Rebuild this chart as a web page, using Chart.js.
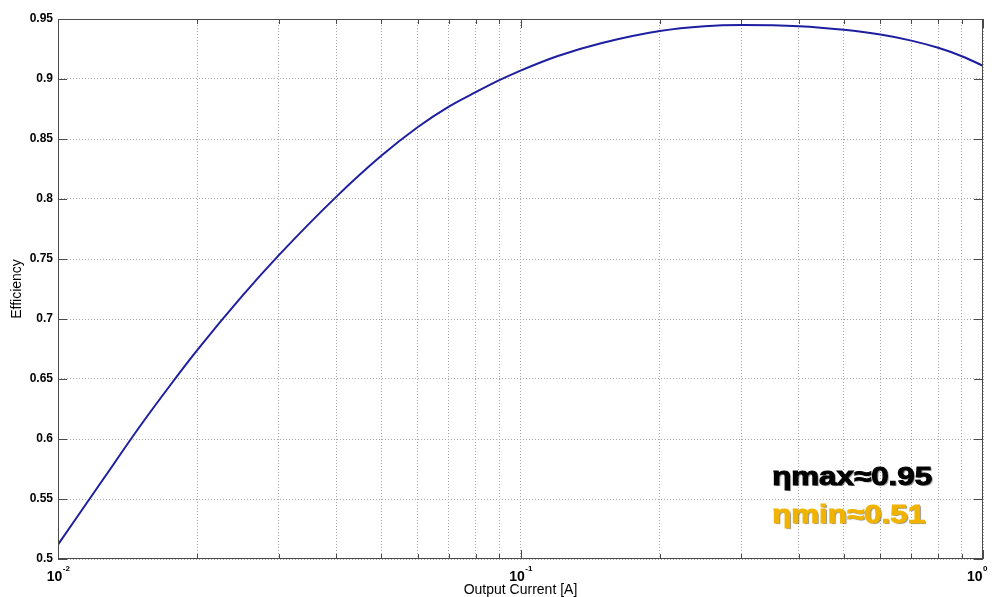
<!DOCTYPE html>
<html>
<head>
<meta charset="utf-8">
<script src="https://cdn.jsdelivr.net/npm/chart.js@4.4.1/dist/chart.umd.min.js"></script>
<style>
  html, body { margin: 0; padding: 0; background: #fff; overflow: hidden; }
  canvas { display: block; }
</style>
</head>
<body>
<canvas id="chart" width="994" height="597" style="width:994px;height:597px"></canvas>
<script>
// Efficiency curve
const currentA = [0.01, 0.0125, 0.015, 0.0175, 0.02, 0.025, 0.03, 0.04, 0.05, 0.06, 0.07, 0.08, 0.09,
                  0.1, 0.12, 0.15, 0.2, 0.25, 0.3, 0.4, 0.5, 0.6, 0.7, 0.8, 0.9, 1];
const efficiency = [0.512, 0.566, 0.610, 0.645, 0.674, 0.719, 0.753, 0.802, 0.836, 0.860, 0.877, 0.889, 0.899,
                    0.907, 0.919, 0.930, 0.940, 0.944, 0.945, 0.944, 0.941, 0.937, 0.932, 0.926, 0.919, 0.911];

// Axes
const yTickValues = [0.5, 0.55, 0.6, 0.65, 0.7, 0.75, 0.8, 0.85, 0.9, 0.95];
const yTickLabels = ['0.5', '0.55', '0.6', '0.65', '0.7', '0.75', '0.8', '0.85', '0.9', '0.95'];
const xGridValues = [0.01, 0.02, 0.03, 0.04, 0.05, 0.06, 0.07, 0.08, 0.09,
                     0.1, 0.2, 0.3, 0.4, 0.5, 0.6, 0.7, 0.8, 0.9, 1];
const xDecadeValues = [0.01, 0.1, 1];
const xDecadeExponents = ['-2', '-1', '0'];
const xTitle = 'Output Current [A]';
const yTitle = 'Efficiency';

// Annotation text
const notes = ['ηmax≈0.95', 'ηmin≈0.51'];
const noteColors = ['#000000', '#f0b400'];

const FONT = "'Liberation Sans', Arial, Helvetica, sans-serif";
const AXIS_COLOR = '#4a4a4a';

// box, inward tick marks, superscript decade labels, titles and notes
const matlabAxes = {
    id: 'matlabAxes',
    afterDraw(chart) {
        const ctx = chart.ctx;
        const area = chart.chartArea;
        const xs = chart.scales.x;
        const ys = chart.scales.y;

        ctx.save();
        ctx.strokeStyle = AXIS_COLOR;
        ctx.lineWidth = 1;
        ctx.strokeRect(area.left + 0.5, area.top + 0.5, area.right - area.left - 1, area.bottom - area.top - 1);

        ctx.beginPath();
        xGridValues.forEach(v => {
            const px = Math.round(xs.getPixelForValue(v)) + 0.5;
            const len = xDecadeValues.includes(v) ? 9 : 5;
            ctx.moveTo(px, area.bottom);
            ctx.lineTo(px, area.bottom - len);
            ctx.moveTo(px, area.top);
            ctx.lineTo(px, area.top + len);
        });
        yTickValues.forEach(v => {
            const py = Math.round(ys.getPixelForValue(v)) + 0.5;
            ctx.moveTo(area.left, py);
            ctx.lineTo(area.left + 9, py);
            ctx.moveTo(area.right, py);
            ctx.lineTo(area.right - 9, py);
        });
        ctx.stroke();

        // decade labels 10^n
        ctx.fillStyle = '#000';
        ctx.textBaseline = 'alphabetic';
        ctx.textAlign = 'left';
        xDecadeValues.forEach((v, i) => {
            const px = xs.getPixelForValue(v);
            ctx.font = 'bold 14px ' + FONT;
            const wBase = ctx.measureText('10').width;
            ctx.font = 'bold 8px ' + FONT;
            const wExp = ctx.measureText(xDecadeExponents[i]).width;
            let start = px - (wBase + wExp) / 2;
            start = Math.min(start, chart.width - 7 - wBase - wExp);
            ctx.font = 'bold 14px ' + FONT;
            ctx.fillText('10', start, area.bottom + 22);
            ctx.font = 'bold 8px ' + FONT;
            ctx.fillText(xDecadeExponents[i], start + wBase + 0.5, area.bottom + 12);
        });

        // axis titles
        ctx.font = '14px ' + FONT;
        ctx.textAlign = 'center';
        ctx.fillText(xTitle, (area.left + area.right) / 2, chart.height - 3);
        ctx.save();
        ctx.translate(17, (area.top + area.bottom) / 2);
        ctx.rotate(-Math.PI / 2);
        ctx.textBaseline = 'middle';
        ctx.fillText(yTitle, 0, 0);
        ctx.restore();

        // notes, anchored in data space
        const nx = xs.getPixelForValue(0.35);
        const nyFirst = ys.getPixelForValue(0.562);
        ctx.font = 'bold 26px ' + FONT;
        ctx.textAlign = 'left';
        const stretch = 160 / ctx.measureText(notes[0]).width;
        notes.forEach((txt, i) => {
            ctx.save();
            ctx.translate(nx, nyFirst + i * 38);
            ctx.scale(stretch, 1);
            ctx.shadowColor = 'rgba(0,0,0,0.45)';
            ctx.shadowOffsetX = 1.5;
            ctx.shadowOffsetY = 1.5;
            ctx.shadowBlur = 1;
            ctx.fillStyle = noteColors[i];
            ctx.strokeStyle = noteColors[i];
            ctx.lineWidth = 1;
            ctx.fillText(txt, 0, 0);
            ctx.shadowColor = 'transparent';
            ctx.strokeText(txt, 0, 0);
            ctx.restore();
        });
        ctx.restore();
    }
};

const gridStyle = {
    color: '#a8a8a8',
    lineWidth: 1,
    drawTicks: false
};

new Chart(document.getElementById('chart'), {
    type: 'line',
    data: {
        datasets: [{
            data: currentA.map((x, i) => ({ x, y: efficiency[i] })),
            borderColor: '#1e1ea0',
            borderWidth: 2,
            pointRadius: 0,
            fill: false,
            cubicInterpolationMode: 'monotone'
        }]
    },
    options: {
        responsive: false,
        animation: false,
        devicePixelRatio: 1,
        layout: { padding: { top: 19, right: 11, left: 0, bottom: 0 } },
        plugins: {
            legend: { display: false },
            tooltip: { enabled: false }
        },
        scales: {
            x: {
                type: 'logarithmic',
                min: 0.01,
                max: 1,
                afterBuildTicks: s => { s.ticks = xGridValues.map(v => ({ value: v })); },
                afterFit: s => { s.height = 38; },
                ticks: { display: false },
                grid: gridStyle,
                border: { display: false, dash: [1, 2] }
            },
            y: {
                min: 0.5,
                max: 0.95,
                afterBuildTicks: s => { s.ticks = yTickValues.map(v => ({ value: v })); },
                afterFit: s => { s.width = 58; },
                ticks: {
                    padding: 5,
                    color: '#000',
                    font: { family: FONT, size: 12, weight: 'bold' },
                    callback: (v, i) => yTickLabels[i]
                },
                grid: gridStyle,
                border: { display: false, dash: [1, 2] }
            }
        }
    },
    plugins: [matlabAxes]
});
</script>
</body>
</html>
